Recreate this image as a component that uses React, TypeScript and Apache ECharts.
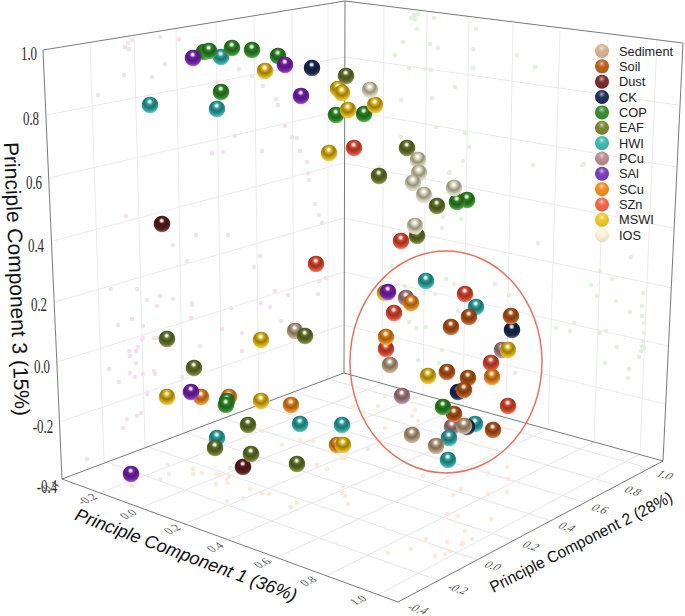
import React, { useEffect, useRef } from "react";
import * as echarts from "echarts";

const sediment = [[295,331],[390,365],[412,435],[436,446],[464,426]];
const soil = [[451,327],[469,317],[511,316],[447,372],[468,378],[464,390],[454,414],[493,430]];
const dust = [[162,224],[243,467]];
const ck = [[312,68],[512,330],[458,392],[467,427]];
const cop = [[204,52],[209,51],[232,48],[252,50],[278,56],[221,92],[336,115],[364,114],[467,200],[457,202],[227,401],[226,405],[443,407]];
const eaf = [[346,76],[407,148],[379,176],[437,206],[417,236],[167,339],[305,336],[194,368],[248,425],[215,448],[251,454],[297,464]];
const hwi = [[221,57],[150,105],[217,109],[426,281],[476,307],[217,438],[300,424],[342,425],[475,424],[449,438],[448,460]];
const pcu = [[406,298],[502,350],[402,396],[452,427]];
const sal = [[193,58],[285,65],[301,96],[388,292],[191,392],[131,474]];
const scu = [[411,303],[201,397],[229,397],[291,405],[337,445],[386,337],[492,377]];
const szn = [[316,264],[354,148],[401,241],[465,294],[394,313],[386,349],[491,363],[508,406]];
const mswi = [[265,71],[338,89],[342,93],[348,110],[375,105],[329,153],[385,293],[261,340],[167,397],[261,401],[343,445],[428,376],[508,350]];
const ios = [[370,90],[418,160],[419,173],[413,183],[424,195],[454,188],[415,226]];

const leftWallDots = [[132,40],[128,43],[125,47],[129,49],[160,37],[179,39],[165,64],[124,75],[152,77],[98,95],[239,69],[252,76],[217,82],[263,86],[276,99],[278,105],[235,136],[285,126],[292,137],[297,138],[300,151],[262,151],[212,153],[223,152],[307,162],[308,173],[309,180],[315,204],[319,215],[322,223],[126,216],[196,235],[228,235],[173,245],[187,261],[260,256],[254,267],[326,278],[319,281],[111,289],[137,289],[160,296],[147,300],[173,299],[192,303],[157,306],[192,305],[275,291],[288,295],[318,294],[261,303],[231,308],[270,307],[118,325],[132,319],[143,326],[143,338],[142,339],[154,338],[157,338],[138,347],[129,351],[136,351],[130,356],[136,363],[109,369],[130,373],[135,377],[143,374],[154,371],[155,374],[119,382],[147,394],[182,377],[200,346],[222,329],[242,333],[242,351],[191,318],[281,321],[127,419],[137,416],[141,413],[123,428],[87,459]];
const rightWallDots = [[411,18],[414,15],[418,14],[415,19],[434,18],[417,29],[476,29],[403,42],[430,44],[438,48],[473,49],[395,55],[517,55],[409,68],[426,69],[431,70],[473,68],[535,67],[455,87],[401,100],[432,98],[436,127],[465,133],[401,137],[469,147],[463,161],[379,167],[533,165],[582,165],[584,164],[449,173],[450,172],[443,217],[461,219],[442,228],[538,243],[631,257],[392,266],[600,271],[612,279],[405,286],[446,279],[454,284],[495,284],[591,285],[643,293],[597,296],[616,301],[642,306],[424,293],[435,294],[509,295],[409,322],[416,328],[426,327],[458,311],[630,312],[642,316],[574,323],[556,328],[570,331],[600,333],[606,331],[644,323],[644,333],[643,341],[642,346],[644,348],[617,347],[641,351],[639,357],[605,363],[629,369],[628,378],[442,350],[418,360],[439,363],[515,373]];
const floorDots = [[160,479],[169,474],[168,465],[193,469],[202,473],[193,474],[217,474],[220,475],[229,476],[230,468],[227,479],[228,483],[216,484],[250,489],[262,493],[269,494],[227,501],[243,498],[291,507],[297,503],[132,486],[313,441],[300,440],[282,445],[262,431],[317,465],[327,469],[343,486],[385,396],[353,406],[378,406],[412,416],[415,410],[418,421],[385,428],[368,449],[342,458],[345,458],[423,476],[507,467],[488,473],[508,479],[507,492],[461,489],[453,495],[488,494],[343,486],[342,493],[345,496],[348,504],[447,514],[458,516],[491,519],[465,531],[463,543],[462,544],[447,542],[472,539],[426,539],[411,549],[388,553],[450,551],[445,554],[435,556]];

const categories = ["Sediment","Soil","Dust","CK","COP","EAF","HWI","PCu","SAl","SCu","SZn","MSWI","IOS"];
const drawOrder = ["SZn","PCu","HWI","CK","Sediment","Soil","SCu","COP","MSWI","SAl","Dust","EAF","IOS"];
const values: Record<string, number[][]> = { Sediment: sediment, Soil: soil, Dust: dust, CK: ck, COP: cop, EAF: eaf, HWI: hwi, PCu: pcu, SAl: sal, SCu: scu, SZn: szn, MSWI: mswi, IOS: ios };

const ballColors: Record<string,string> = { Sediment:"#b89e82", Soil:"#b3561a", Dust:"#5c1f20", CK:"#1b2b50", COP:"#2f8a26", EAF:"#66752a", HWI:"#2fa5a0", PCu:"#a87f86", SAl:"#7a22b0", SCu:"#e5851a", SZn:"#dd4a33", MSWI:"#e0b416", IOS:"#d8d4b6" };
const legendColors: Record<string,string> = { Sediment:"#d6b492", Soil:"#bf6020", Dust:"#7d2c2a", CK:"#20305c", COP:"#3d8e32", EAF:"#7b8a32", HWI:"#3fbbb0", PCu:"#bc8e92", SAl:"#7c40b8", SCu:"#f09022", SZn:"#f4674c", MSWI:"#eeca2c", IOS:"#fbf1d6" };

const zTicks = ["1.0","0.8","0.6","0.4","0.2","0.0","-0.2","-0.4"];
const pc1Ticks = ["-0.4","-0.2","0.0","0.2","0.4","0.6","0.8","1.0"];
const pc2Ticks = ["-0.4","-0.2","0.0","0.2","0.4","0.6","0.8","1.0"];

// ---- frame of the 3D box in the image plane
const A = [62,479], B = [344,373], C = [663,461], D = [398,602];
const TL = [43,50], TC = [345,1], TR = [683,43];
const leftGridEnds = [[47,115,344,57],[49,178,344,110],[53,241,344,163],[55,302,344,218],[57,362,344,272],[59,422,344,325]];
const rightGridEnds = [[344,57,678,105],[344,110,676,167],[344,163,673,228],[344,218,672,288],[344,272,668,346],[344,325,665,404]];
const abTicks = [[104,461],[145,446],[183,432],[222,418],[259,405],[294,392],[328,379]];
const abTops = [[90,43],[134,35],[176,28],[216,22],[254,17],[292,10],[328,4]];
const bcTicks = [[382,384],[423,395],[463,406],[506,418],[548,429],[594,442],[640,454]];
const bcTops = [[384,7],[427,13],[469,18],[513,24],[560,31],[608,37],[657,40]];
const adTicks = [[100,493],[140,508],[184,524],[228,540],[276,558],[326,576],[378,595]];
const dcTicks = [[440,581],[478,560],[515,541],[552,521],[587,503],[620,486],[652,469]];

const zLabelPos = [[29,54],[31,119],[34,183],[36,246],[39,305],[42,367],[43,427],[47,487]];
const pc1LabelPos = [[49,487],[87,499],[128,514],[172,529],[215,547],[262,563],[308,581],[358,600]];
const pc2LabelPos = [[418,609],[458,589],[493,566],[531,546],[567,527],[600,509],[633,491],[665,475]];

const seg = (p: number[], q: number[]) => [p, q, [null, null]];
const segs = (a: number[][], b: number[][]) => a.flatMap((p, i) => seg(p, b[i]));
const wallGrid = [
  ...leftGridEnds.flatMap(v => seg([v[0],v[1]],[v[2],v[3]])),
  ...rightGridEnds.flatMap(v => seg([v[0],v[1]],[v[2],v[3]])),
  ...segs(abTops, abTicks),
  ...segs(bcTops, bcTicks),
];
const floorGrid = [...segs(adTicks, bcTicks), ...segs(dcTicks, abTicks)];
const frame = [
  ...seg(TL,A), ...seg(TC,B), ...seg(TR,C), ...seg(TL,TC), ...seg(TC,TR),
  ...seg(A,B), ...seg(B,C), ...seg(A,D), ...seg(D,C),
];

const mix = (a: string, b: string, t: number) => {
  const p = (s: string) => [1,3,5].map(i => parseInt(s.slice(i,i+2),16));
  const x = p(a), y = p(b);
  return "rgb(" + x.map((v,i) => Math.round(v + (y[i]-v)*t)).join(",") + ")";
};
const ball = (c: string) => ({
  type: "radial", x: 0.48, y: 0.3, r: 0.72,
  colorStops: [
    { offset: 0, color: "#ffffff" },
    { offset: 0.1, color: mix(c,"#ffffff",0.8) },
    { offset: 0.24, color: mix(c,"#000000",0.02) },
    { offset: 0.48, color: mix(c,"#000000",0.32) },
    { offset: 0.78, color: c },
    { offset: 1, color: mix(c,"#ffffff",0.45) },
  ],
});
const legendBall = (c: string) => ({
  type: "radial", x: 0.48, y: 0.3, r: 0.72,
  colorStops: [
    { offset: 0, color: mix(c,"#ffffff",0.65) },
    { offset: 0.16, color: mix(c,"#ffffff",0.3) },
    { offset: 0.36, color: c },
    { offset: 1, color: mix(c,"#000000",0.08) },
  ],
});

const dotSeries = (name: string, data: number[][], color: string) => ({
  name, type: "scatter", data, symbolSize: 4.5, silent: true, z: 1,
  itemStyle: { color, opacity: 1 },
});
const lineSeries = (name: string, data: any[], color: string, width: number, z: number) => ({
  name, type: "line", data, symbol: "none", connectNulls: false, silent: true, z,
  lineStyle: { color, width },
});

const rad = (d: number) => d * Math.PI / 180;
const tickText = (text: string, p: number[], rotation: number, skewX: number, sx: number, size: number, color: string, style = "normal") => ({
  type: "text", x: p[0], y: p[1], rotation: rad(rotation), skewX, scaleX: sx, z: 20, silent: true,
  style: { text, fill: color, font: `${style} ${size}px "Liberation Serif"`, align: "center", verticalAlign: "middle" },
});
const axisTitle = (text: string, p: number[], rotation: number, sx: number, size: number, style = "normal", skewX = 0) => ({
  type: "text", x: p[0], y: p[1], rotation: rad(rotation), scaleX: sx, skewX, z: 20, silent: true,
  style: { text, fill: "#111", font: `${style} ${size}px "Liberation Sans"`, align: "center", verticalAlign: "middle" },
});

export default function App() {
  const ref = useRef<HTMLDivElement>(null);
  useEffect(() => {
    const chart = echarts.init(ref.current!, null, { renderer: "svg" });
    chart.setOption({
      animation: false,
      backgroundColor: "#ffffff",
      grid: { left: 0, right: 0, top: 0, bottom: 0 },
      xAxis: { type: "value", min: 0, max: 685, show: false },
      yAxis: { type: "value", min: 0, max: 616, inverse: true, show: false },
      legend: {
        orient: "vertical", left: 590, top: 39, itemWidth: 14, itemHeight: 14, itemGap: 1.35,
        selectedMode: false, icon: "circle",
        textStyle: { fontFamily: "Liberation Sans", fontSize: 12.8, color: "#222", padding: [0,0,0,5] },
        data: categories.map(name => ({ name, icon: "circle", itemStyle: { color: legendBall(legendColors[name]), opacity: 1 } })),
      },
      graphic: [
        { type: "ellipse", shape: { cx: 446, cy: 362, rx: 96, ry: 111 }, z: 15, silent: true,
          style: { fill: "none", stroke: "#e5735f", lineWidth: 1.5 } },
        ...zTicks.map((t, i) => tickText(t, zLabelPos[i], 0, 0, 0.72, 18, "#2a2a2a")),
        ...pc1Ticks.map((t, i) => tickText(t, pc1LabelPos[i], 25, 0.5, 1, 11, "#555")),
        ...pc2Ticks.map((t, i) => tickText(t, pc2LabelPos[i], -16, -0.5, 1.1, 11, "#555")),
        axisTitle("Principle Component 3 (15%)", [17,279], -87.6, 1, 21),
        axisTitle("Principle Component 1 (36%)", [186,555], -20.5, 1, 18, "italic"),
        axisTitle("Principle Component 2 (28%)", [581,542], 27, 0.97, 16),
      ],
      series: [
        lineSeries("wall grid", wallGrid, "#ebebed", 1, 1),
        lineSeries("floor grid", floorGrid, "#e6e6e6", 1, 1),
        dotSeries("left wall projection", leftWallDots, "#f1e2ef"),
        dotSeries("right wall projection", rightWallDots, "#e2f0e0"),
        dotSeries("floor projection", floorDots, "#fbe9dd"),
        lineSeries("frame", frame, "#7a7a7a", 1, 2),
        ...drawOrder.map((name, i) => ({
          name, type: "scatter", data: values[name], symbolSize: 16.5, z: 5 + i * 0.01,
          itemStyle: { color: ball(ballColors[name]), opacity: 1 },
        })),
      ],
    });
    return () => chart.dispose();
  }, []);
  return <div ref={ref} style={{ position: "absolute", left: 0, top: 0, width: 685, height: 616 }} />;
}
